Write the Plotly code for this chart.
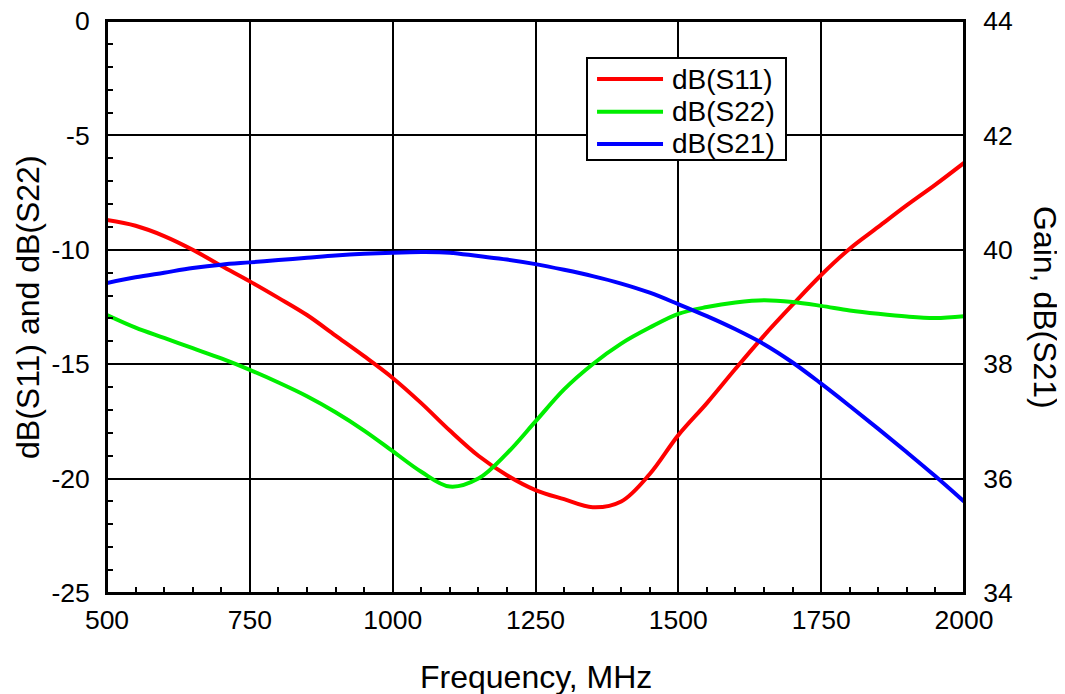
import plotly.graph_objects as go

freq = [500, 550, 600, 650, 700, 750, 800, 850, 900, 950, 1000, 1050, 1100, 1150, 1200,
        1250, 1300, 1350, 1400, 1450, 1500, 1550, 1600, 1650, 1700, 1750, 1800, 1850,
        1900, 1950, 2000]

s11 = [-8.70, -8.95, -9.40, -10.00, -10.70, -11.38, -12.10, -12.85, -13.75, -14.65,
       -15.60, -16.70, -17.90, -19.00, -19.85, -20.50, -20.90, -21.25, -21.00, -19.80,
       -18.10, -16.70, -15.20, -13.75, -12.40, -11.10, -9.95, -9.00, -8.05, -7.15, -6.20]

s22 = [-12.85, -13.40, -13.85, -14.30, -14.75, -15.25, -15.80, -16.40, -17.10, -17.90,
       -18.80, -19.70, -20.35, -20.00, -18.90, -17.50, -16.10, -15.00, -14.10, -13.40,
       -12.80, -12.50, -12.30, -12.20, -12.28, -12.45, -12.65, -12.80, -12.92, -12.98, -12.90]

s21 = [39.42, 39.52, 39.60, 39.68, 39.74, 39.78, 39.82, 39.86, 39.90, 39.93,
       39.95, 39.96, 39.95, 39.89, 39.83, 39.75, 39.65, 39.54, 39.41, 39.25,
       39.05, 38.84, 38.61, 38.35, 38.03, 37.66, 37.27, 36.87, 36.46, 36.04, 35.60]

series_names = ["dB(S11)", "dB(S22)", "dB(S21)"]
series_colors = ["#FF0000", "#00EE00", "#0000FF"]

x_ticks = [500, 750, 1000, 1250, 1500, 1750, 2000]
y_ticks = [0, -5, -10, -15, -20, -25]
y_tick_text = ["0", "-5", "-10", "-15", "-20", "-25"]
y2_ticks = [34, 36, 38, 40, 42, 44]

FONT = "Liberation Sans, Arial, sans-serif"
TICK = 26.5
TITLE = 32

fig = go.Figure()
for name, ys, col, ax in zip(series_names, [s11, s22, s21], series_colors, ["y", "y", "y2"]):
    fig.add_trace(go.Scatter(x=freq, y=ys, name=name, mode="lines", yaxis=ax,
                             showlegend=False,
                             line=dict(color=col, width=4, shape="spline")))

# plot frame
shapes = [dict(type="rect", xref="paper", yref="paper", x0=0, x1=1, y0=0, y1=1,
               line=dict(color="black", width=2), layer="above")]
# manual legend (box, line samples, labels) in paper coordinates
shapes.append(dict(type="rect", xref="paper", yref="paper", x0=0.5601, x1=0.7923,
                   y0=0.757, y1=0.9353, line=dict(color="black", width=2),
                   fillcolor="white", layer="above"))
annotations = []
row_y = [0.8986, 0.8415, 0.785]
for name, col, ry in zip(series_names, series_colors, row_y):
    shapes.append(dict(type="line", xref="paper", yref="paper", x0=0.5718, x1=0.6488,
                       y0=ry, y1=ry, line=dict(color=col, width=4), layer="above"))
    annotations.append(dict(text=name, xref="paper", yref="paper", x=0.6575, y=ry,
                            xanchor="left", yanchor="middle", showarrow=False,
                            font=dict(size=28, family=FONT, color="black")))

annotations.append(dict(text="Gain, dB(S21)", textangle=90, xref="paper", yref="paper",
                        x=1.0, y=0.5, xanchor="center", yanchor="middle",
                        xshift=81, showarrow=False,
                        font=dict(size=TITLE, family=FONT, color="black")))
annotations.append(dict(text="dB(S11) and dB(S22)", textangle=-90, xref="paper",
                        yref="paper", x=0.0, y=0.5, xanchor="center", yanchor="middle",
                        xshift=-79, showarrow=False,
                        font=dict(size=TITLE, family=FONT, color="black")))
annotations.append(dict(text="Frequency, MHz", xref="paper", yref="paper",
                        x=0.5, y=0.0, xanchor="center", yanchor="middle",
                        yshift=-84, showarrow=False,
                        font=dict(size=TITLE, family=FONT, color="black")))

# the page body adds an 8px offset, so the figure is 8px smaller and margins shifted
fig.update_layout(
    width=1057, height=686,
    margin=dict(l=99, r=101, t=13, b=101, autoexpand=False),
    plot_bgcolor="white", paper_bgcolor="white",
    font=dict(family=FONT, size=TICK, color="black"),
    showlegend=False,
    shapes=shapes,
    annotations=annotations,
    xaxis=dict(range=[500, 2000], tickvals=x_ticks, showgrid=True, automargin=False,
               gridcolor="black", gridwidth=1.5, showline=True, linecolor="black",
               linewidth=2, mirror=True, ticks="", zeroline=False,
               tickfont=dict(size=TICK), ticklabelstandoff=2,
               ticklabeloverflow="allow",
               minor=dict(dtick=50, ticks="inside", ticklen=6, tickcolor="black",
                          tickwidth=1.5, showgrid=False)),
    yaxis=dict(range=[-25, 0], tickvals=y_ticks, ticktext=y_tick_text, showgrid=True,
               automargin=False, ticklabeloverflow="allow",
               gridcolor="black", gridwidth=1.5, showline=True, linecolor="black",
               linewidth=2, ticks="", zeroline=False, tickfont=dict(size=TICK),
               ticklabelstandoff=10,
               minor=dict(dtick=1, ticks="inside", ticklen=6, tickcolor="black",
                          tickwidth=1.5, showgrid=False)),
    yaxis2=dict(range=[34, 44], tickvals=y2_ticks, overlaying="y", side="right",
                automargin=False, ticklabeloverflow="allow",
                showgrid=False, showline=True, linecolor="black", linewidth=2,
                ticks="", zeroline=False, tickfont=dict(size=TICK), ticklabelstandoff=12),
)

fig.write_html("out.html")
